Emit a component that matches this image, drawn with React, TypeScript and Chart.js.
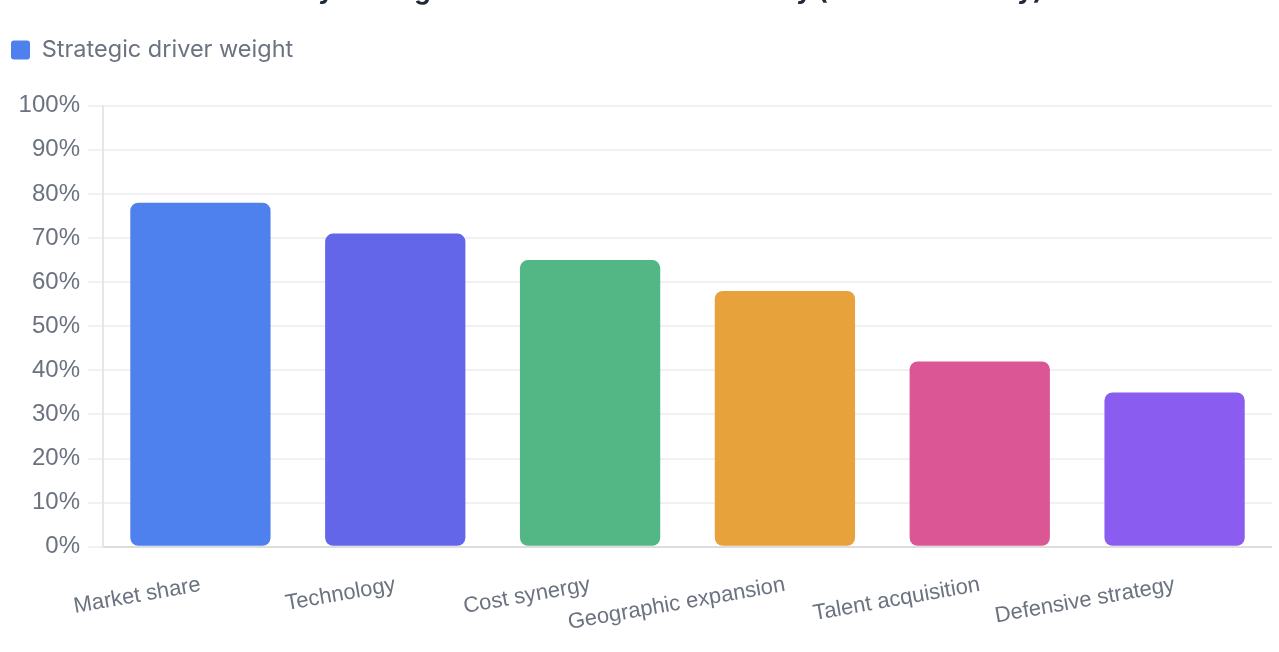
import React, { useEffect, useRef } from "react";
import { Chart, registerables } from "chart.js";

Chart.register(...registerables);

const TITLE = "Key strategic drivers behind M&A activity (share of activity)";
const SERIES_LABEL = "Strategic driver weight";
const categories = [
  "Market share",
  "Technology",
  "Cost synergy",
  "Geographic expansion",
  "Talent acquisition",
  "Defensive strategy",
];
const weights = [78, 71, 65, 58, 42, 35];
const barColors = ["#4e80ee", "#6366e9", "#53b685", "#e7a23b", "#db5695", "#8a5cf0"];
const yTickValues = [0, 10, 20, 30, 40, 50, 60, 70, 80, 90, 100];

const FONT = "'Liberation Sans', Arial, Helvetica, sans-serif";
const INTER = "Inter, 'Liberation Sans', Arial, sans-serif";
const GREY = "#6b7280";

const legendGap = {
  id: "legendGap",
  beforeInit(chart: any) {
    const legend = chart.legend;
    if (!legend) return;
    const orig = legend.fit;
    legend.fit = function () {
      orig.call(this);
      this.height += 34;
    };
  },
};

export default function App() {
  const ref = useRef<HTMLCanvasElement | null>(null);
  useEffect(() => {
    if (!ref.current) return;
    const chart = new Chart(ref.current, {
      type: "bar",
      data: {
        labels: categories,
        datasets: [
          {
            label: SERIES_LABEL,
            data: weights,
            backgroundColor: barColors,
            borderRadius: 8,
            borderSkipped: false,
          },
        ],
      },
      plugins: [legendGap],
      options: {
        animation: false,
        responsive: true,
        maintainAspectRatio: false,
        layout: { padding: 0 },
        plugins: {
          title: {
            display: true,
            text: "         " + TITLE,
            color: "#1f2937",
            font: { family: INTER, size: 26, weight: "bold" },
            padding: { top: 15, bottom: 21 },
          },
          legend: {
            display: true,
            position: "top",
            align: "start",
            labels: {
              color: GREY,
              font: { family: INTER, size: 23.5 },
              boxWidth: 19,
              boxHeight: 19,
              padding: 10,
              useBorderRadius: true,
              borderRadius: 3,
              generateLabels: () => [
                {
                  text: SERIES_LABEL,
                  fillStyle: barColors[0],
                  strokeStyle: barColors[0],
                  lineWidth: 0,
                  hidden: false,
                  datasetIndex: 0,
                  borderRadius: 3,
                  fontColor: GREY,
                } as any,
              ],
            },
          },
          tooltip: { enabled: false },
        },
        scales: {
          x: {
            grid: { display: false, drawTicks: false },
            border: { display: true, color: "#dddddd", width: 2 },
            ticks: {
              color: GREY,
              font: { family: FONT, size: 22 },
              minRotation: 10,
              maxRotation: 10,
              padding: 25,
            },
          },
          y: {
            min: 0,
            max: 100,
            afterFit: (s: any) => {
              s.width = 102;
            },
            afterBuildTicks: (s: any) => {
              s.ticks = yTickValues.map((v) => ({ value: v }));
            },
            grid: { color: "#f1f1f1", lineWidth: 2, tickLength: 15 },
            border: { display: true, color: "#e6e6e6", width: 2 },
            ticks: {
              color: GREY,
              font: { family: FONT, size: 24 },
              padding: 8,
              callback: (v: any) => v + "%",
            },
          },
        },
      },
    });
    return () => chart.destroy();
  }, []);
  return (
    <div style={{ position: "absolute", left: 1, top: -39, width: 1271, height: 700 }}>
      <canvas ref={ref} />
    </div>
  );
}
